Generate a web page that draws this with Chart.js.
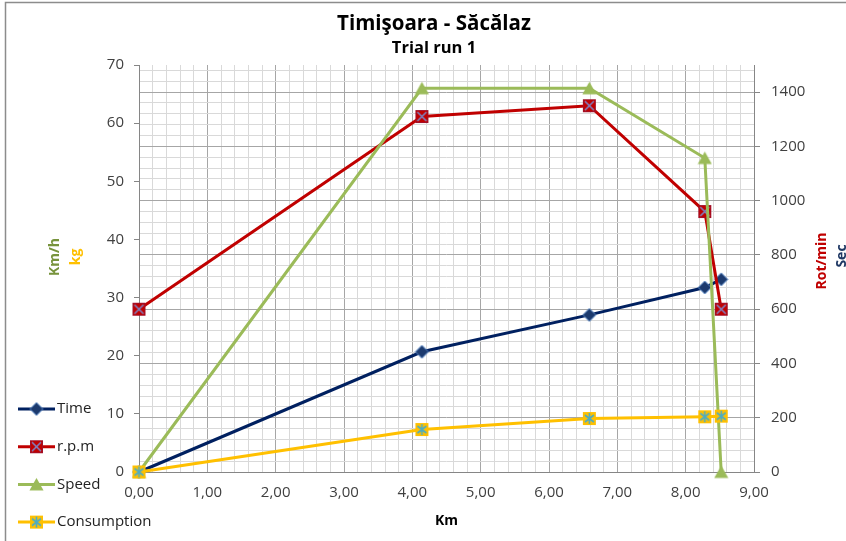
<!DOCTYPE html>
<html lang="en">
<head>
<meta charset="UTF-8" />
<title>Timişoara - Săcălaz</title>
<script src="https://cdn.jsdelivr.net/npm/chart.js"></script>
<style>
  html, body { margin: 0; padding: 0; background: #fff; }
  #wrap { width: 846px; height: 541px; position: relative; }
</style>
</head>
<body>
<div id="wrap"><canvas id="runChart"></canvas></div>
<script>
// distance along the route (Km)
const km = [0, 4.14, 6.59, 8.28, 8.52];
// series
const timeSec = [0, 443, 579, 680, 710];
const rpm = [600, 1310, 1350, 960, 600];
const speedKmh = [0, 66, 66, 54, 0];
const consumptionKg = [0, 7.3, 9.2, 9.5, 9.6];
const seriesNames = ["Time", "r.p.m", "Speed", "Consumption"];

// axes
const kmTicks = [0, 1, 2, 3, 4, 5, 6, 7, 8, 9];
const kmMinorStep = 0.2;
const leftTicks = [0, 10, 20, 30, 40, 50, 60, 70];
const rightTicks = [0, 200, 400, 600, 800, 1000, 1200, 1400];
const rightMax = 1500;
const rightMinorStep = 40;

const fontFam = "'Open Sans', 'DejaVu Sans', sans-serif";

function marker(kind) {
  const c = document.createElement("canvas");
  c.width = 15; c.height = 15;
  const g = c.getContext("2d");
  if (kind === "diamond") {
    g.beginPath();
    g.moveTo(7.5, 1); g.lineTo(14, 7.5); g.lineTo(7.5, 14); g.lineTo(1, 7.5);
    g.closePath();
    g.fillStyle = "#1c3a6e"; g.fill();
    g.strokeStyle = "#5b8bc9"; g.lineWidth = 1; g.stroke();
  } else if (kind === "rectx") {
    g.fillStyle = "#c00000"; g.fillRect(1, 1, 13, 13);
    g.strokeStyle = "#a0102a"; g.lineWidth = 1; g.strokeRect(1.5, 1.5, 12, 12);
    g.strokeStyle = "#7e86c8"; g.lineWidth = 1.5;
    g.beginPath();
    g.moveTo(3, 3); g.lineTo(12, 12); g.moveTo(12, 3); g.lineTo(3, 12);
    g.stroke();
  } else if (kind === "triangle") {
    g.beginPath();
    g.moveTo(7.5, 1); g.lineTo(14.5, 13.5); g.lineTo(0.5, 13.5);
    g.closePath();
    g.fillStyle = "#9bbb59"; g.fill();
  } else {
    g.fillStyle = "#ffc000"; g.fillRect(1, 1, 13, 13);
    g.strokeStyle = "#4bacc6"; g.lineWidth = 1.6;
    g.beginPath();
    g.moveTo(7.5, 2); g.lineTo(7.5, 13);
    g.moveTo(3, 4); g.lineTo(12, 11);
    g.moveTo(3, 11); g.lineTo(12, 4);
    g.stroke();
  }
  return c;
}

const markers = [marker("diamond"), marker("rectx"), marker("triangle"), marker("star")];
const colors = ["#002060", "#c00000", "#9bbb59", "#ffc000"];

function pts(ys) {
  return km.map((k, i) => ({ x: k, y: ys[i] }));
}

function fmtKm(v) {
  return v.toFixed(2).replace(".", ",");
}

function isWhole(v, step) {
  return Math.abs(v / step - Math.round(v / step)) < 1e-6;
}

// frame, axis titles and the legend on the left
const extras = {
  id: "extras",
  afterDraw(chart) {
    const ctx = chart.ctx;
    ctx.save();
    ctx.strokeStyle = "#8c8c8c";
    ctx.lineWidth = 1.5;
    ctx.beginPath();
    ctx.moveTo(5.5, 541); ctx.lineTo(5.5, 2.5); ctx.lineTo(846, 2.5);
    ctx.stroke();

    const vTitle = (text, color, x, y) => {
      ctx.save();
      ctx.translate(x, y);
      ctx.rotate(-Math.PI / 2);
      ctx.font = "bold 14px " + fontFam;
      ctx.fillStyle = color;
      ctx.textAlign = "center";
      ctx.textBaseline = "middle";
      ctx.fillText(text, 0, 0);
      ctx.restore();
    };
    vTitle("Km/h", "#77933c", 55, 257);
    vTitle("kg", "#ffc000", 76, 257);
    vTitle("Rot/min", "#c00000", 822, 261);
    vTitle("Sec", "#1f3864", 842, 256);

    const top = 409, gap = 37.7;
    ctx.font = "15px " + fontFam;
    ctx.textBaseline = "middle";
    ctx.textAlign = "left";
    seriesNames.forEach((name, i) => {
      const y = top + i * gap;
      ctx.strokeStyle = colors[i];
      ctx.lineWidth = 3;
      ctx.beginPath();
      ctx.moveTo(18, y); ctx.lineTo(55, y);
      ctx.stroke();
      const m = markers[i];
      ctx.drawImage(m, 36.5 - m.width / 2, y - m.height / 2);
      ctx.fillStyle = "#222";
      ctx.fillText(name, 57, y);
    });
    ctx.restore();
  }
};

const ctx = document.getElementById("runChart").getContext("2d");
new Chart(ctx, {
  type: "line",
  data: {
    datasets: [
      { label: seriesNames[0], data: pts(timeSec), yAxisID: "y1", order: 4 },
      { label: seriesNames[1], data: pts(rpm), yAxisID: "y1", order: 3 },
      { label: seriesNames[2], data: pts(speedKmh), yAxisID: "y", order: 2 },
      { label: seriesNames[3], data: pts(consumptionKg), yAxisID: "y", order: 1 }
    ].map((ds, i) => Object.assign(ds, {
      borderColor: colors[i],
      backgroundColor: colors[i],
      borderWidth: 3,
      pointStyle: markers[i],
      pointRadius: 7,
      tension: 0,
      clip: false
    }))
  },
  options: {
    responsive: true,
    maintainAspectRatio: false,
    animation: false,
    layout: { padding: { left: 22, right: 0, top: 0, bottom: 0 } },
    plugins: {
      legend: { display: false },
      tooltip: { enabled: false },
      title: {
        display: true,
        text: "Timişoara - Săcălaz",
        color: "#000",
        font: { family: fontFam, size: 20.5, weight: "bold" },
        padding: { top: 12, bottom: 1 }
      },
      subtitle: {
        display: true,
        text: "Trial run 1",
        color: "#000",
        font: { family: fontFam, size: 16.5, weight: "bold" },
        padding: { top: 1, bottom: 6.6 }
      }
    },
    scales: {
      x: {
        type: "linear",
        min: kmTicks[0],
        max: kmTicks[kmTicks.length - 1],
        afterBuildTicks(axis) {
          const n = Math.round((axis.max - axis.min) / kmMinorStep);
          const t = [];
          for (let k = 0; k <= n; k++) t.push({ value: +(axis.min + k * kmMinorStep).toFixed(4) });
          axis.ticks = t;
        },
        afterFit(scale) { scale.height = 69; },
        ticks: {
          autoSkip: false,
          maxRotation: 0,
          minRotation: 0,
          padding: 12,
          color: "#404040",
          font: { family: fontFam, size: 15 },
          callback: (v) => (kmTicks.some((t) => Math.abs(t - v) < 1e-6) ? fmtKm(v) : "")
        },
        grid: {
          drawTicks: false,
          color: (c) => (isWhole(c.tick.value, 1) ? "#a6a6a6" : "#d9d9d9")
        },
        border: { color: "#868686" },
        title: {
          display: true,
          text: "Km",
          color: "#000",
          font: { family: fontFam, size: 14, weight: "bold" },
          padding: { top: 4, bottom: 12 }
        }
      },
      y: {
        position: "left",
        min: leftTicks[0],
        max: leftTicks[leftTicks.length - 1],
        afterBuildTicks(axis) { axis.ticks = leftTicks.map((v) => ({ value: v })); },
        afterFit(scale) { scale.width = 117; },
        ticks: {
          padding: 10,
          color: "#404040",
          font: { family: fontFam, size: 15 }
        },
        grid: { drawOnChartArea: false, tickLength: 5, tickColor: "#868686" },
        border: { color: "#868686" }
      },
      y1: {
        position: "right",
        min: 0,
        max: rightMax,
        afterBuildTicks(axis) {
          const t = [];
          for (let v = 0; v <= rightMax; v += rightMinorStep) t.push({ value: v });
          axis.ticks = t;
        },
        afterFit(scale) { scale.width = 92; },
        ticks: {
          autoSkip: false,
          padding: 11,
          color: "#404040",
          font: { family: fontFam, size: 15 },
          callback: (v) => (rightTicks.includes(v) ? String(v) : "")
        },
        grid: {
          tickLength: 6,
          color: (c) => (rightTicks.includes(c.tick.value) ? "#a6a6a6" : "#d9d9d9"),
          tickColor: (c) => (rightTicks.includes(c.tick.value) ? "#868686" : "rgba(0,0,0,0)")
        },
        border: { color: "#868686" }
      }
    }
  },
  plugins: [extras]
});
</script>
</body>
</html>
